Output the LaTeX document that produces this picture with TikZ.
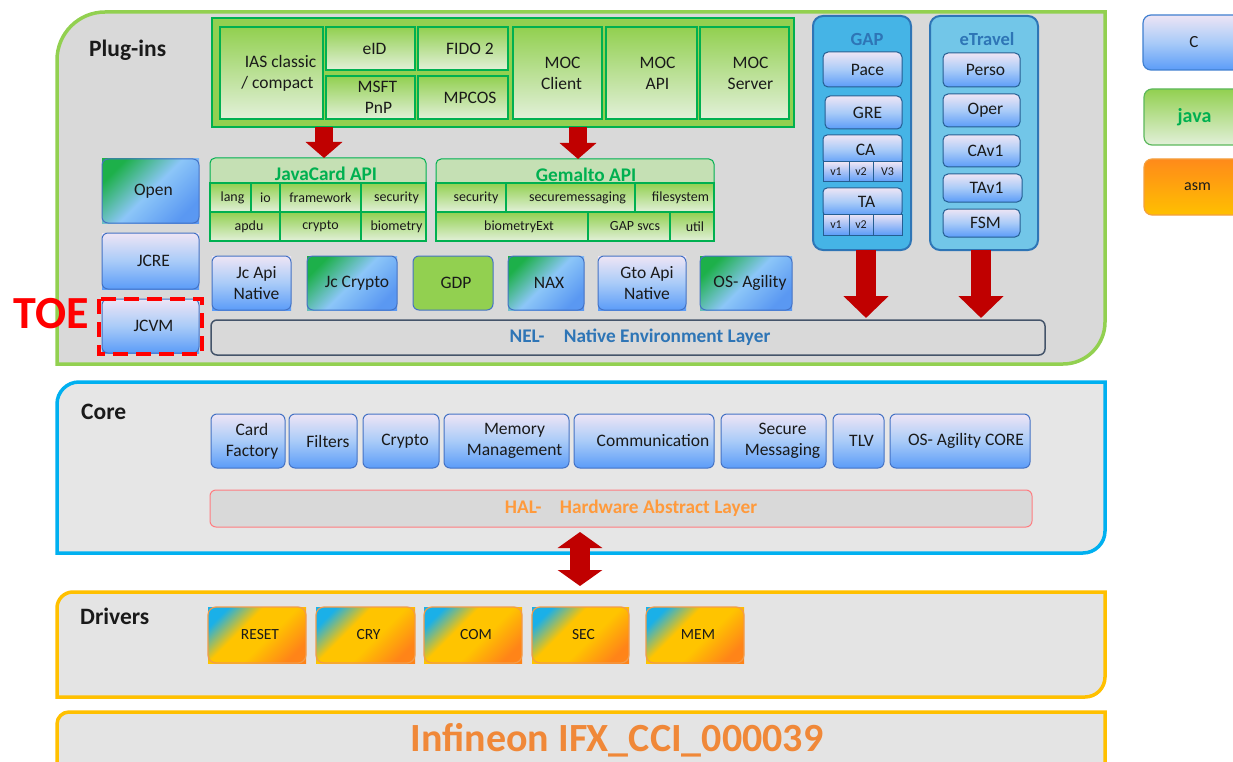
\documentclass[tikz,border=0pt]{standalone}
\usepackage{fontspec}
\setmainfont{Carlito}
\usetikzlibrary{arrows.meta}
\definecolor{pgbg}{HTML}{D9D9D9}
\definecolor{corebg}{HTML}{E6E6E6}
\definecolor{drvbg}{HTML}{E4E4E4}
\definecolor{pgborder}{HTML}{92D050}
\definecolor{coreborder}{HTML}{00B0F0}
\definecolor{drvborder}{HTML}{FFC000}
\definecolor{ctop}{HTML}{EEE5F5}
\definecolor{cmid}{HTML}{A9CBF8}
\definecolor{cbot}{HTML}{5B9CF8}
\definecolor{cborder}{HTML}{4472C4}
\definecolor{jtop}{HTML}{92D050}
\definecolor{jbot}{HTML}{E2F0D9}
\definecolor{jborder}{HTML}{00B050}
\definecolor{jtitle}{HTML}{C5E0B4}
\definecolor{atop}{HTML}{FF8A1A}
\definecolor{abot}{HTML}{FFC000}
\definecolor{arrred}{HTML}{C00000}
\definecolor{gapfill}{HTML}{45B4E6}
\definecolor{etrfill}{HTML}{72C6E8}
\definecolor{panelborder}{HTML}{2E75B6}
\definecolor{titleblue}{HTML}{2E75B6}
\definecolor{nelblue}{HTML}{2E75B6}
\definecolor{nelborder}{HTML}{44546A}
\definecolor{halborder}{HTML}{FF7C80}
\definecolor{haltext}{HTML}{FF9A3C}
\definecolor{inftext}{HTML}{F08838}
\definecolor{txt}{HTML}{1A1A1A}
\definecolor{mixgreen}{HTML}{1DB04A}
\definecolor{mixmid}{HTML}{8CC6F8}
\definecolor{mixblue}{HTML}{5A98F2}
\definecolor{drvcyan}{HTML}{1AB0E8}
\definecolor{drvyellow}{HTML}{FFC400}
\definecolor{drvorange}{HTML}{FF8418}
\definecolor{drvline}{HTML}{F29B4A}
\definecolor{legcline}{HTML}{3F7FD0}
\definecolor{legjline}{HTML}{5CB85C}
\definecolor{legaline}{HTML}{F4A040}
\definecolor{toered}{HTML}{FF0000}

\pgfdeclareverticalshading{drvshade}{100bp}{color(0bp)=(drvorange); color(24bp)=(drvorange); color(44bp)=(drvyellow); color(60bp)=(drvyellow); color(76bp)=(drvcyan); color(100bp)=(drvcyan)}

\newcommand{\fA}{\fontsize{17.5}{21}\selectfont}
\newcommand{\fB}{\fontsize{14}{16}\selectfont}
\newcommand{\fV}{\fontsize{12}{14}\selectfont}
\newcommand{\fC}{\bfseries\fontsize{19.3}{22}\selectfont}
\newcommand{\fT}{\bfseries\fontsize{23.5}{27}\selectfont}
\newcommand{\fD}{\fontsize{15.5}{18}\selectfont}
\newcommand{\rs}[1]{\hspace*{#1pt}\hspace*{#1pt}}
\newcommand{\Bx}[7]{\node[#1, minimum width={#5-#3}, minimum height={#6-#4}] (#2) at ({(#3+#5)/2},{-(#4+#6)/2}) {#7};}
\newcommand{\Sq}[5]{\shade[#1] (#2,-#3) rectangle (#4,-#5);}

\tikzset{
 base/.style={inner sep=0pt, outer sep=0pt, align=center, text=txt},
 csq/.style={top color=ctop, bottom color=cbot, middle color=cmid},
 cbox/.style={base, draw=cborder, line width=1pt, rounded corners=6pt, top color=ctop, bottom color=cbot, middle color=cmid, font=\fA},
 cline/.style={base, draw=cborder, line width=1pt, rounded corners=6pt, font=\fA},
 gdpbox/.style={base, draw=cborder, line width=1pt, rounded corners=6pt, fill=jtop, font=\fA},
 jbox/.style={base, draw=jborder, line width=1.5pt, top color=jtop, bottom color=jbot, font=\fA},
 cell/.style={base, draw=jborder, line width=1.2pt, top color=jtop, bottom color=jbot, font=\fB},
 apititle/.style={base, draw=jborder, line width=1pt, rounded corners=5pt, fill=jtitle, font=\fC, text=jborder},
 contbox/.style={base, draw=jborder, line width=1.5pt, fill=jtop},
 mixsq/.style={top color=mixgreen, bottom color=mixblue, middle color=mixmid, shading angle=45},
 drvsq/.style={shading=drvshade, shading angle=45},
 drvbox/.style={base, draw=drvline, line width=1.2pt, rounded corners=8pt, font=\fD},
 gitem/.style={base, draw=panelborder!80!black, line width=1pt, rounded corners=5pt, top color=ctop, bottom color=cbot, middle color=cmid, font=\fA},
 vcell/.style={base, draw=panelborder!80!black, line width=1pt, top color=ctop, bottom color=cbot, font=\fV},
 panel/.style={base, draw=panelborder, line width=2pt, rounded corners=10pt},
 ptitle/.style={inner sep=0pt, font=\bfseries\fontsize{18.5}{22}\selectfont, text=titleblue},
 nelbox/.style={base, draw=nelborder, line width=1.5pt, rounded corners=6pt, fill=pgbg, font=\fC, text=nelblue},
 halbox/.style={base, draw=halborder, line width=1pt, rounded corners=6pt, fill=pgbg, font=\fC, text=haltext},
 legc/.style={base, draw=legcline, line width=1.2pt, rounded corners=8pt, top color=ctop, bottom color=cbot, middle color=cmid, font=\fontsize{17}{20}\selectfont},
 legj/.style={base, draw=legjline, line width=1.2pt, rounded corners=8pt, top color=jtop, bottom color=jbot, text=jborder, font=\bfseries\fontsize{20}{24}\selectfont},
 lega/.style={base, draw=legaline, line width=1.2pt, rounded corners=8pt, top color=atop, bottom color=abot, font=\fontsize{16}{19}\selectfont},
 sectitle/.style={inner sep=0pt, anchor=base west, font=\fT, text=txt},
 toedash/.style={draw=toered, line width=4pt, dash pattern=on 15pt off 8pt},
 arrA/.style={draw=arrred, line width=18pt, -{Triangle[width=36pt,length=16pt]}},
 arrB/.style={draw=arrred, line width=20pt, -{Triangle[width=44pt,length=22pt]}},
 arrD/.style={draw=arrred, line width=20pt, {Triangle[width=44pt,length=16pt]}-{Triangle[width=44pt,length=16pt]}},
}

\begin{document}
\begin{tikzpicture}[x=1pt,y=1pt]
\useasboundingbox (0,0) rectangle (1233,-762);
\clip (0,0) rectangle (1233,-762);
\fill[white] (0,0) rectangle (1233,-762);

% section frames
\draw[line width=3.5pt, draw=pgborder, fill=pgbg] (57,-364) -- (57,-60) arc[start angle=180,end angle=90,radius=48] -- (1105,-12) -- (1105,-322) arc[start angle=0,end angle=-90,radius=42] -- cycle;
\draw[line width=3.5pt, draw=coreborder, fill=corebg] (57,-553) -- (57,-404) arc[start angle=180,end angle=90,radius=22] -- (1105,-382) -- (1105,-531) arc[start angle=0,end angle=-90,radius=22] -- cycle;
\draw[line width=3.5pt, draw=drvborder, fill=drvbg] (57,-697) -- (57,-608) arc[start angle=180,end angle=90,radius=16] -- (1105,-592) -- (1105,-677) arc[start angle=0,end angle=-90,radius=20] -- cycle;
\draw[line width=3.5pt, draw=drvborder, fill=drvbg] (57,-800) -- (57,-724) arc[start angle=180,end angle=90,radius=12] -- (1105,-712) -- (1105,-800);

\node[sectitle] (tplug) at (89,-57) {Plug-ins};
\node[sectitle] (tcore) at (81,-419) {Core};
\node[sectitle] (tdrv) at (80,-624) {Drivers};

% top java container
\Bx{contbox}{cont}{212}{18}{794}{127}{}
\Bx{jbox}{ias}{220}{27}{323}{119}{\rs{9}IAS classic\\\rs{6}/ compact}
\Bx{jbox}{eid}{326}{27}{415}{70}{\rs{4}eID}
\Bx{jbox}{msft}{326}{76}{415}{119}{\rs{7}MSFT\\\rs{8}PnP}
\Bx{jbox}{fido}{418}{27}{508}{70}{\rs{7}FIDO 2}
\Bx{jbox}{mpcos}{418}{76}{508}{119}{\rs{7}MPCOS}
\Bx{jbox}{mocc}{513}{27}{602}{119}{\rs{5}MOC\\\rs{4}Client}
\Bx{jbox}{moca}{606}{27}{697}{119}{\rs{6}MOC\\\rs{6}API}
\Bx{jbox}{mocs}{700}{27}{789}{119}{\rs{6}MOC\\\rs{6}Server}

% JavaCard API
\Bx{apititle}{jctitle}{210}{158}{426}{190}{\rs{8}JavaCard API}
\Bx{cell}{lang}{210}{183}{251}{212}{\rs{2}lang}
\Bx{cell}{io}{251}{183}{280}{212}{io}
\Bx{cell}{framework}{280}{183}{361}{212}{framework}
\Bx{cell}{jsec}{361}{183}{426}{212}{\rs{3}security}
\Bx{cell}{apdu}{210}{212}{280}{241}{\rs{4}apdu}
\Bx{cell}{jcrypto}{280}{212}{361}{241}{crypto}
\Bx{cell}{biometry}{361}{212}{426}{241}{\rs{3}biometry}

% Gemalto API
\Bx{apititle}{gtitle}{436}{159}{714}{190}{\rs{11}Gemalto API}
\Bx{cell}{gsec}{436}{183}{506}{212}{\rs{5}security}
\Bx{cell}{gsecmsg}{506}{183}{635}{212}{\rs{7}securemessaging}
\Bx{cell}{gfile}{635}{183}{714}{212}{\rs{6}filesystem}
\Bx{cell}{gbio}{436}{212}{588}{241}{\rs{7}biometryExt}
\Bx{cell}{gsvcs}{588}{212}{670}{241}{\rs{6}GAP svcs}
\Bx{cell}{gutil}{670}{212}{714}{241}{\rs{3}util}

% left column
\Sq{mixsq}{102}{159}{199}{223}
\Bx{cline}{open}{102}{159}{199}{223}{\rs{3}Open}
\Sq{csq}{102}{233}{199}{289}
\Bx{cline}{jcre}{102}{233}{199}{289}{\rs{3}JCRE}
\Sq{csq}{102}{299}{199}{353}
\Bx{cline}{jcvm}{102}{299}{199}{353}{\rs{3}JCVM}
\draw[toedash] ([xshift=-3pt]jcvm.north west) rectangle ([shift={(3pt,-1pt)}]jcvm.south east);
\node[anchor=base, inner sep=0pt, font=\bfseries\fontsize{46}{50}\selectfont, text=toered] (toe) at (51,-328) {TOE};

% native row
\Sq{csq}{212}{256}{291}{310}
\Bx{cline}{jcapin}{212}{256}{291}{310}{\rs{5}Jc Api\\\rs{5}Native}
\Sq{mixsq}{307}{256}{397}{310}
\Bx{cline}{jccrypto}{307}{256}{397}{310}{\rs{5}Jc Crypto}
\Bx{gdpbox}{gdp}{413}{256}{493}{310}{\rs{3}GDP}
\Sq{mixsq}{508}{256}{584}{310}
\Bx{cline}{nax}{508}{256}{584}{310}{\rs{3}NAX}
\Sq{csq}{598}{256}{686}{310}
\Bx{cline}{gtoapi}{598}{256}{686}{310}{\rs{5}Gto Api\\\rs{5}Native}
\Sq{mixsq}{700}{256}{792}{310}
\Bx{cline}{osag}{700}{256}{792}{310}{\rs{4}OS- Agility}

\Bx{nelbox}{nel}{211}{320}{1045}{355}{\rs{12}NEL-\hspace{1em}Native Environment Layer}

% GAP panel
\Bx{panel, fill=gapfill}{gap}{813}{16}{911}{250}{}
\node[ptitle] (gapt) at (867,-39) {GAP};
\Bx{gitem}{pace}{823}{52}{902}{87}{\rs{5}Pace}
\Bx{gitem}{gre}{825}{96}{902}{129}{\rs{4}GRE}
\Bx{gitem, rounded corners=4pt}{ca}{823}{135}{902}{164}{\raisebox{-4pt}{\rs{3}CA}}
\Bx{vcell}{cavone}{823}{162}{849}{182}{v1}
\Bx{vcell}{cavtwo}{849}{162}{873}{182}{v2}
\Bx{vcell}{cavthree}{873}{162}{902}{182}{V3}
\Bx{gitem, rounded corners=4pt}{ta}{823}{188}{902}{216}{\raisebox{-4pt}{\rs{4}TA}}
\Bx{vcell}{tavone}{823}{214}{849}{235}{v1}
\Bx{vcell}{tavtwo}{849}{214}{873}{235}{v2}
\Bx{vcell}{tavthree}{873}{214}{902}{235}{}

% eTravel panel
\Bx{panel, fill=etrfill}{etr}{930}{16}{1038}{250}{}
\node[ptitle] (etrt) at (987,-39) {eTravel};
\Bx{gitem}{perso}{943}{53}{1020}{87}{\rs{4}Perso}
\Bx{gitem}{oper}{943}{94}{1020}{127}{\rs{4}Oper}
\Bx{gitem}{ecav}{943}{135}{1020}{167}{\rs{4}CAv1}
\Bx{gitem}{etav}{943}{174}{1022}{202}{\rs{4}TAv1}
\Bx{gitem}{fsm}{943}{209}{1020}{237}{\rs{4}FSM}

% legend
\Bx{legc}{lc}{1143}{15}{1245}{70}{C}
\Bx{legj}{lj}{1144}{89}{1245}{145}{java}
\Bx{lega}{la}{1144}{159}{1245}{215}{\rs{3}asm}

% core row
\Bx{cbox}{cardf}{211}{414}{285}{468}{\rs{4}Card\\\rs{4}Factory}
\Bx{cbox}{filters}{289}{414}{357}{468}{\rs{5}Filters}
\Bx{cbox}{ccrypto}{363}{414}{439}{468}{\rs{4}Crypto}
\Bx{cbox}{memm}{444}{414}{569}{468}{\rs{8}Memory\\\rs{8}Management}
\Bx{cbox}{comm}{574}{414}{714}{468}{\rs{9}Communication}
\Bx{cbox}{secm}{721}{414}{826}{468}{\rs{9}Secure\\\rs{9}Messaging}
\Bx{cbox}{tlv}{833}{414}{884}{468}{\rs{3}TLV}
\Bx{cbox}{osac}{890}{414}{1030}{468}{\rs{6}OS- Agility CORE}

\Bx{halbox}{hal}{210}{490}{1032}{527}{\rs{10}HAL-\hspace{0.95em}Hardware Abstract Layer}

% drivers
\Sq{drvsq}{208}{607}{306}{663}
\Bx{drvbox}{reset}{208}{607}{306}{663}{\rs{3}RESET}
\Sq{drvsq}{316}{607}{415}{663}
\Bx{drvbox}{cry}{316}{607}{415}{663}{\rs{3}CRY}
\Sq{drvsq}{424}{607}{522}{663}
\Bx{drvbox}{com}{424}{607}{522}{663}{\rs{3}COM}
\Sq{drvsq}{532}{607}{629}{663}
\Bx{drvbox}{sec}{532}{607}{629}{663}{\rs{3}SEC}
\Sq{drvsq}{646}{607}{744}{663}
\Bx{drvbox}{mem}{646}{607}{744}{663}{\rs{3}MEM}

\node[anchor=base, inner sep=0pt, font=\bfseries\fontsize{40}{44}\selectfont, text=inftext] (inf) at (617,-751) {Infineon IFX\_CCI\_000039};

% arrows
\draw[arrA] ([xshift=6pt]jctitle.north |- cont.south) -- ([xshift=6pt]jctitle.north);
\draw[arrA] ([xshift=3pt]gtitle.north |- cont.south) -- ([xshift=3pt]gtitle.north);
\draw[arrB, shorten >=2pt] ([xshift=4pt]gap.south) -- ([xshift=4pt]gap.south |- nel.north);
\draw[arrB, shorten >=2pt] ([xshift=-3pt]etr.south) -- ([xshift=-3pt]etr.south |- nel.north);
\coordinate (drvtop) at (580,-592);
\draw[arrD, shorten <=5pt, shorten >=6pt] (hal.south -| drvtop) -- (drvtop);
\end{tikzpicture}
\end{document}
